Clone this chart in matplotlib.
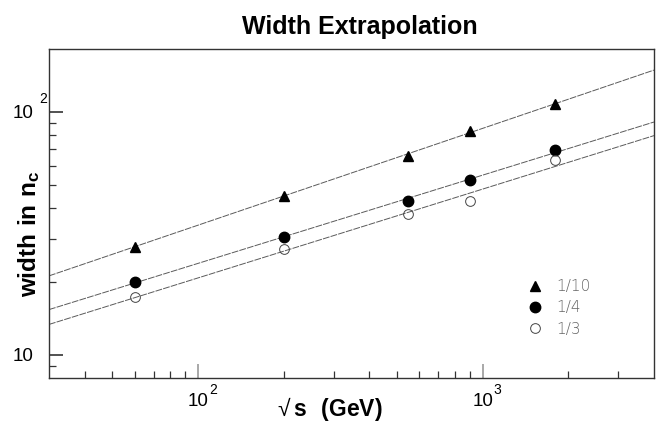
import numpy as np
import matplotlib
matplotlib.use("Agg")
import matplotlib.pyplot as plt
from matplotlib.ticker import FixedLocator, NullFormatter, FixedFormatter

plt.rcParams['font.family'] = ['Liberation Sans', 'DejaVu Sans']
plt.rcParams['mathtext.fontset'] = 'custom'
plt.rcParams['mathtext.rm'] = 'Liberation Sans'
plt.rcParams['mathtext.bf'] = 'Liberation Sans:bold'

# centre-of-mass energies (GeV) and fitted widths for three fractions
sqrt_s = [60, 200, 546, 900, 1800]
width_1_10 = [27.9, 45.2, 65.6, 83.2, 107.9]
width_1_4 = [20.0, 30.5, 43.0, 52.2, 69.6]
width_1_3 = [17.3, 27.3, 38.0, 42.8, 63.4]
labels = ["1/10", "1/4", "1/3"]

x_range = (30, 4000)
y_range = (8.04, 181)

fig = plt.figure(figsize=(6.61, 4.23), dpi=100)
ax = fig.add_axes([49 / 661, 1 - 378 / 423, 605 / 661, 329 / 423])
ax.set_xscale("log")
ax.set_yscale("log")
ax.set_xlim(*x_range)
ax.set_ylim(*y_range)

line_color = "#5a5a5a"
xx = np.logspace(np.log10(x_range[0]), np.log10(x_range[1]), 200)
series = [
    (width_1_10, dict(marker="^", color="black", markersize=7.5, linestyle="none")),
    (width_1_4, dict(marker="o", color="black", markersize=7.5, linestyle="none")),
    (width_1_3, dict(marker="o", markerfacecolor="none", markeredgecolor="#444444",
                     markeredgewidth=0.7, markersize=7, linestyle="none")),
]
for (w, style), lab in zip(series, labels):
    # power-law fit, straight in log-log
    b, a = np.polyfit(np.log10(sqrt_s), np.log10(w), 1)
    ax.plot(xx, 10 ** (a + b * np.log10(xx)), color=line_color, lw=0.7,
            linestyle=(0, (7, 1.2)), zorder=2)
    ax.plot(sqrt_s, w, label=lab, zorder=3, **style)

# axes frame and inward ticks
for sp in ax.spines.values():
    sp.set_color("#333333")
    sp.set_linewidth(1.0)

ax.xaxis.set_major_locator(FixedLocator([100, 1000]))
ax.xaxis.set_minor_locator(FixedLocator([40, 50, 60, 70, 80, 90, 200, 300, 400, 500,
                                         600, 700, 800, 900, 2000, 3000]))
ax.yaxis.set_major_locator(FixedLocator([10, 100]))
ax.yaxis.set_minor_locator(FixedLocator([9, 20, 30, 40, 50, 60, 70, 80, 90]))
ax.xaxis.set_major_formatter(FixedFormatter(["10", "10"]))
ax.yaxis.set_major_formatter(FixedFormatter(["10", "10"]))
ax.xaxis.set_minor_formatter(NullFormatter())
ax.yaxis.set_minor_formatter(NullFormatter())
ax.tick_params(which="both", direction="in", colors="#333333", labelcolor="black",
               labelsize=13.5)
ax.tick_params(which="major", length=10, width=1.2)
ax.tick_params(which="minor", length=5, width=0.9)
ax.tick_params(axis="x", which="major", pad=10.5, color="#999999")
ax.tick_params(axis="y", which="major", pad=11.5)

# exponents attached to the decade labels
ax.annotate("2", xy=(0, 100), xycoords=("axes fraction", "data"), xytext=(-1, 4),
            textcoords="offset points", ha="right", va="bottom", fontsize=10)
for xv, ex in [(100, "2"), (1000, "3")]:
    ax.annotate(ex, xy=(xv, 0), xycoords=("data", "axes fraction"), xytext=(8, -14),
                textcoords="offset points", ha="left", va="bottom", fontsize=10)

fig.text(330 / 661, 1 - 409 / 423, r"$\mathrm{√}\,\mathbf{s\ \ (GeV)}$", ha="center",
         va="center", fontsize=16.5)
fig.text(29 / 661, 1 - 234 / 423, r"$\mathbf{width\ in\ n_c}$", ha="center",
         va="center", rotation=90, fontsize=17.5)
fig.text(360 / 661, 1 - 27 / 423, "Width Extrapolation", ha="center", va="center",
         fontsize=18, fontweight="bold")

leg = ax.legend(loc="upper left", bbox_to_anchor=(0.768, 0.343), frameon=False,
                prop=dict(family="DejaVu Sans", weight="light", size=11),
                handlelength=1.0, handletextpad=0.9, labelspacing=0.42,
                numpoints=1)
for t in leg.get_texts():
    t.set_color("#666666")

fig.savefig("out.png", dpi=100)
